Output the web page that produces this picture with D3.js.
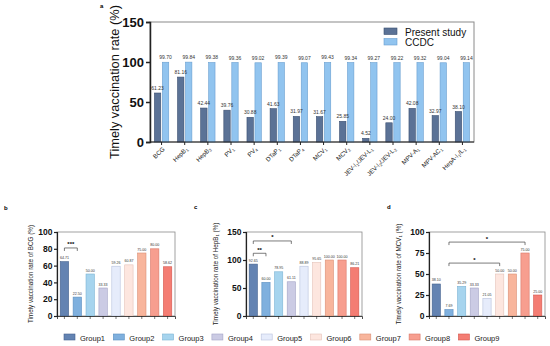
<!DOCTYPE html>
<html>
<head>
<meta charset="utf-8">
<script src="https://cdn.jsdelivr.net/npm/d3@7"></script>
<style>
  body { margin: 0; background: #fff; }
  svg { font-family: Arial, "Liberation Sans", sans-serif; }
</style>
</head>
<body>
<div id="chart"></div>
<script>
// vaccine names: [base, subscript, rest, subscript]
const vaccines = [
  ['BCG'], ['HepB', '1'], ['HepB', '3'], ['PV', '1'], ['PV', '4'],
  ['DTaP', '1'], ['DTaP', '4'], ['MCV', '1'], ['MCV', '2'],
  ['JEV-I', '1', '/JEV-L', '1'], ['JEV-I', '2', '/JEV-L', '2'],
  ['MPV-A', '1'], ['MPV-AC', '1'], ['HepA-I', '1', '/L', '1']
]
const presentStudy = [61.23, 81.16, 42.44, 39.76, 30.88, 41.63, 31.97, 31.67, 25.85, 4.52, 24.00, 42.08, 32.97, 38.10]
const ccdc = [99.70, 99.84, 99.38, 99.36, 99.02, 99.39, 99.07, 99.43, 99.34, 99.27, 99.22, 99.32, 99.04, 99.14]
const seriesA = ['Present study', 'CCDC']
const ticksA = [0, 50, 100, 150]

const groups = ['Group1', 'Group2', 'Group3', 'Group4', 'Group5', 'Group6', 'Group7', 'Group8', 'Group9']
const bcg = [64.71, 22.50, 50.00, 33.33, 59.26, 60.87, 75.00, 80.00, 58.62]
const hepb1 = [92.65, 60.00, 78.95, 61.11, 88.89, 95.65, 100.00, 100.00, 86.21]
const mcv1 = [38.10, 7.69, 35.29, 33.33, 21.05, 50.00, 50.00, 75.00, 25.00]
const ticksB = [0, 20, 40, 60, 80, 100]
const ticksC = [0, 50, 100, 150]
const ticksD = [0, 25, 50, 75, 100]
// significance brackets: [from group, to group, height, label]
const sigB = [['Group1', 'Group2', 81, '***']]
const sigC = [['Group1', 'Group2', 112, '**'], ['Group1', 'Group4', 134, '*']]
const sigD = [['Group2', 'Group6', 63, '*'], ['Group2', 'Group8', 88, '*']]

const groupFill = ['#6383b2', '#7fb0de', '#a6d4ee', '#cbcbe4', '#e6ecfb', '#fde6df', '#f8b59c', '#f79e8f', '#f47d73']
const groupStroke = ['#45628f', '#5b8fc0', '#7cb4d4', '#a3a3c6', '#b9c2dc', '#e4c2b8', '#d98f76', '#d9786a', '#d5574e']

const svg = d3.select('#chart').append('svg')
  .attr('width', 550).attr('height', 346)

// ---------- panel a ----------
const a = { left: 150, right: 474, top: 22, bottom: 142 }
const xA = d3.scaleBand().domain(d3.range(vaccines.length)).range([a.left, a.right]).paddingInner(0.38).paddingOuter(0.19)
const xSub = d3.scaleBand().domain(seriesA).range([0, xA.bandwidth()]).paddingInner(0.2)
const yA = d3.scaleLinear().domain([0, 150]).range([a.bottom, a.top])
const colA = d3.scaleOrdinal().domain(seriesA).range(['#5b7296', '#91c4ef'])
const strokeA = d3.scaleOrdinal().domain(seriesA).range(['#3b4f70', '#6a9fd0'])

const gA = svg.append('g')
gA.append('rect').attr('x', a.left).attr('y', a.top)
  .attr('width', a.right - a.left).attr('height', a.bottom - a.top)
  .attr('fill', 'none').attr('stroke', '#8a8a8a').attr('stroke-width', 1)

const rowsA = vaccines.map((v, i) => ({ i, vals: [presentStudy[i], ccdc[i]] }))
const cat = gA.selectAll('.cat').data(rowsA).enter().append('g')
  .attr('transform', d => 'translate(' + xA(d.i) + ',0)')
cat.selectAll('rect').data(d => d.vals.map((v, k) => ({ key: seriesA[k], v })))
  .enter().append('rect')
  .attr('x', d => xSub(d.key))
  .attr('y', d => yA(d.v))
  .attr('width', xSub.bandwidth())
  .attr('height', d => yA(0) - yA(d.v))
  .attr('fill', d => colA(d.key))
  .attr('stroke', d => strokeA(d.key))
  .attr('stroke-width', 0.6)
cat.selectAll('text').data(d => d.vals.map((v, k) => ({ key: seriesA[k], v })))
  .enter().append('text')
  .attr('x', d => xSub(d.key) + xSub.bandwidth() / 2)
  .attr('y', d => yA(d.v) - 3)
  .attr('text-anchor', 'middle')
  .attr('font-size', 5)
  .attr('fill', '#333')
  .text(d => d.v.toFixed(2))

const axA = gA.append('g').attr('transform', 'translate(' + a.left + ',0)')
  .call(d3.axisLeft(yA).tickValues(ticksA).tickSize(4).tickPadding(2))
axA.select('.domain').attr('stroke', '#222').attr('stroke-width', 1.5)
axA.selectAll('.tick line').attr('stroke', '#222').attr('stroke-width', 1.5)
axA.selectAll('.tick text').attr('font-size', 13).attr('font-weight', 'bold').attr('fill', '#111')

const axAx = gA.append('g').attr('transform', 'translate(0,' + a.bottom + ')')
axAx.append('line').attr('x1', a.left).attr('x2', a.right).attr('stroke', '#222').attr('stroke-width', 1)
const tickA = axAx.selectAll('.t').data(vaccines).enter().append('g')
  .attr('transform', (d, i) => 'translate(' + (xA(i) + xA.bandwidth() / 2) + ',0)')
tickA.append('line').attr('y2', 3).attr('stroke', '#222')
const lab = tickA.append('g')
  .attr('transform', 'translate(2,6) rotate(-45)')
  .append('text')
  .attr('text-anchor', 'end')
  .attr('dy', '0.35em')
  .attr('font-size', 6.2)
  .attr('fill', '#222')
lab.each(function(d) {
  const t = d3.select(this)
  d.forEach((part, k) => {
    const sp = t.append('tspan').text(part)
    if (k % 2 === 1) sp.attr('font-size', 4.2).attr('dy', '1.2').attr('dx', '0.2')
    else if (k > 0) sp.attr('dy', '-1.2')
  })
})

gA.append('text')
  .attr('transform', 'translate(119,' + (a.top + a.bottom) / 2 + ') rotate(-90)')
  .attr('text-anchor', 'middle')
  .attr('font-size', 12.8)
  .attr('fill', '#111')
  .text('Timely vaccination rate (%)')

const legA = gA.selectAll('.leg').data(seriesA).enter().append('g')
  .attr('transform', (d, i) => 'translate(384,' + (28 + i * 10.5) + ')')
legA.append('rect').attr('width', 13).attr('height', 6.5)
  .attr('fill', d => colA(d)).attr('stroke', d => strokeA(d)).attr('stroke-width', 0.6)
legA.append('text').attr('x', 21).attr('y', 7.5).attr('font-size', 10).attr('fill', '#111').text(d => d)

gA.append('text').attr('x', 100).attr('y', 8).attr('font-size', 6).attr('font-weight', 'bold').text('a')

// ---------- panels b, c, d ----------
function groupPanel(opts) {
  const p = { top: 232, bottom: 316, left: opts.left, right: opts.right }
  const g = svg.append('g')
  const x = d3.scaleBand().domain(groups).range([p.left, p.right]).paddingInner(0.35).paddingOuter(0.25)
  const y = d3.scaleLinear().domain([0, opts.max]).range([p.bottom, p.top])

  g.append('rect').attr('x', p.left).attr('y', p.top)
    .attr('width', p.right - p.left).attr('height', p.bottom - p.top)
    .attr('fill', 'none').attr('stroke', '#8a8a8a').attr('stroke-width', 0.8)

  g.selectAll('.bar').data(opts.values).enter().append('rect')
    .attr('x', (d, i) => x(groups[i]))
    .attr('y', d => y(d))
    .attr('width', x.bandwidth())
    .attr('height', d => y(0) - y(d))
    .attr('fill', (d, i) => groupFill[i])
    .attr('stroke', (d, i) => groupStroke[i])
    .attr('stroke-width', 0.6)

  g.selectAll('.val').data(opts.values).enter().append('text')
    .attr('x', (d, i) => x(groups[i]) + x.bandwidth() / 2)
    .attr('y', d => y(d) - 2.5)
    .attr('text-anchor', 'middle')
    .attr('font-size', 3.6)
    .attr('fill', '#333')
    .text(d => d.toFixed(2))

  const ay = g.append('g').attr('transform', 'translate(' + p.left + ',0)')
    .call(d3.axisLeft(y).tickValues(opts.ticks).tickSize(3).tickPadding(1.5))
  ay.select('.domain').attr('stroke', '#222').attr('stroke-width', 1.2)
  ay.selectAll('.tick line').attr('stroke', '#222').attr('stroke-width', 1.2)
  ay.selectAll('.tick text').attr('font-size', 8.5).attr('font-weight', 'bold').attr('fill', '#111')

  const ax = g.append('g').attr('transform', 'translate(0,' + p.bottom + ')')
    .call(d3.axisBottom(x).tickSize(3).tickFormat(''))
  ax.select('.domain').attr('stroke', '#222').attr('stroke-width', 0.8)
  ax.selectAll('.tick line').attr('stroke', '#222').attr('stroke-width', 0.6)

  opts.sig.forEach(s => {
    const x1 = x(s[0]) + x.bandwidth() / 2
    const x2 = x(s[1]) + x.bandwidth() / 2
    const yy = y(s[2])
    g.append('path')
      .attr('d', 'M' + x1 + ',' + (yy + 3) + 'V' + yy + 'H' + x2 + 'V' + (yy + 3))
      .attr('fill', 'none').attr('stroke', '#444').attr('stroke-width', 0.7)
    g.append('text').attr('x', (x1 + x2) / 2).attr('y', yy - 1.5)
      .attr('text-anchor', 'middle').attr('font-size', 6).attr('font-weight', 'bold')
      .text(s[3])
  })

  const title = g.append('text')
    .attr('transform', 'translate(' + opts.titleX + ',' + (p.top + p.bottom) / 2 + ') rotate(-90)')
    .attr('text-anchor', 'middle').attr('font-size', 6.3).attr('fill', '#222')
  title.append('tspan').text(opts.title[0])
  if (opts.title.length > 1) {
    title.append('tspan').text(opts.title[1]).attr('font-size', 4.2).attr('dy', '1.2')
    title.append('tspan').text(opts.title[2]).attr('dy', '-1.2')
  }

  g.append('text').attr('x', opts.letterX).attr('y', opts.letterY)
    .attr('font-size', 6).attr('font-weight', 'bold').text(opts.letter)
}

groupPanel({ left: 57, right: 175, max: 100, ticks: ticksB, values: bcg, sig: sigB,
  title: ['Timely vaccination rate of BCG (%)'], titleX: 33, letter: 'b', letterX: 4, letterY: 210 })
groupPanel({ left: 246, right: 362, max: 150, ticks: ticksC, values: hepb1, sig: sigC,
  title: ['Timely vaccination rate of HepB', '1', ' (%)'], titleX: 218, letter: 'c', letterX: 194, letterY: 209 })
groupPanel({ left: 429, right: 545, max: 100, ticks: ticksD, values: mcv1, sig: sigD,
  title: ['Timely vaccination rate of MCV', '1', ' (%)'], titleX: 401, letter: 'd', letterX: 387, letterY: 209 })

// ---------- shared legend ----------
const leg = svg.selectAll('.gleg').data(groups).enter().append('g')
  .attr('transform', (d, i) => 'translate(' + (64 + i * 49.3) + ',334)')
leg.append('rect').attr('width', 11).attr('height', 6)
  .attr('fill', (d, i) => groupFill[i]).attr('stroke', (d, i) => groupStroke[i]).attr('stroke-width', 0.6)
leg.append('text').attr('x', 16).attr('y', 6.5).attr('font-size', 7.5).attr('fill', '#222').text(d => d)
</script>
</body>
</html>
